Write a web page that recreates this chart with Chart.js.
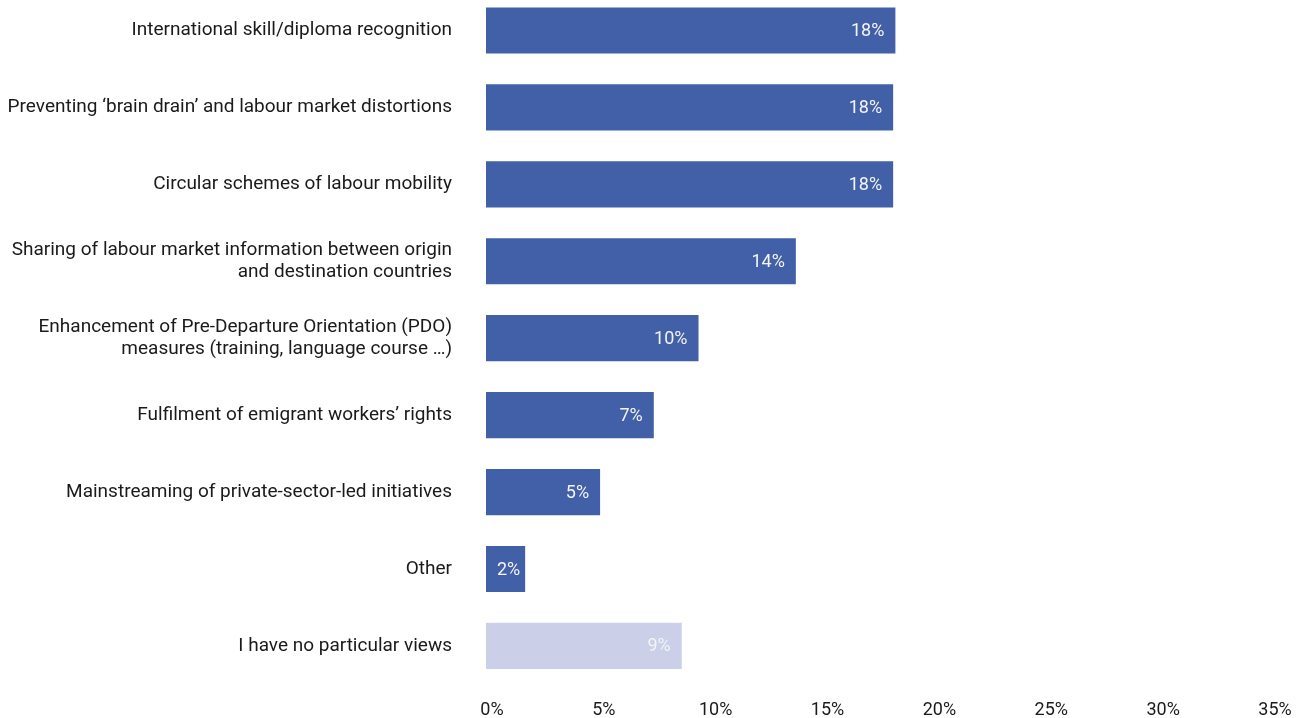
<!DOCTYPE html>
<html>
<head>
<meta charset="utf-8">
<script src="https://cdn.jsdelivr.net/npm/chart.js@4.4.1/dist/chart.umd.min.js"></script>
<style>
  html, body { margin: 0; padding: 0; background: #fff; overflow: hidden; }
  #wrap { position: absolute; left: 0; top: -8px; width: 1298px; height: 747px; }
</style>
</head>
<body>
<div id="wrap"><canvas id="barChart"></canvas></div>
<script>
const categories = [
    'International skill/diploma recognition',
    'Preventing \u2018brain drain\u2019 and labour market distortions',
    'Circular schemes of labour mobility',
    ['Sharing of labour market information between origin', 'and destination countries'],
    ['Enhancement of Pre-Departure Orientation (PDO)', 'measures (training, language course \u2026)'],
    'Fulfilment of emigrant workers\u2019 rights',
    'Mainstreaming of private-sector-led initiatives',
    'Other',
    'I have no particular views'
];
const shares = [18.3, 18.2, 18.2, 13.85, 9.5, 7.5, 5.1, 1.75, 8.75];
const shareLabels = ['18%', '18%', '18%', '14%', '10%', '7%', '5%', '2%', '9%'];
const xTicks = [0, 5, 10, 15, 20, 25, 30, 35];

const darkBlue = '#4260A8';
const lightBlue = '#CBCFE8';

Chart.defaults.font.family = 'Roboto';

// white value labels at the end of each bar
const valueLabels = {
    id: 'valueLabels',
    afterDatasetsDraw(chart) {
        const ctx = chart.ctx;
        const meta = chart.getDatasetMeta(0);
        ctx.save();
        ctx.font = '18px Roboto';
        ctx.fillStyle = '#F4F4F4';
        ctx.textBaseline = 'middle';
        meta.data.forEach((bar, i) => {
            const txt = shareLabels[i];
            const w = ctx.measureText(txt).width;
            const barW = bar.x - bar.base;
            if (w + 22 > barW) {
                ctx.textAlign = 'left';
                ctx.fillText(txt, bar.base + 11, bar.y + 1);
            } else {
                ctx.textAlign = 'right';
                ctx.fillText(txt, bar.x - 11, bar.y + 1);
            }
        });
        ctx.restore();
    }
};

// no automatic padding from the tick labels, layout is set by hand
function noAutoPadding(s) {
    s.paddingTop = 0;
    s.paddingBottom = 0;
    s.paddingLeft = 0;
    s.paddingRight = 0;
}

const barCtx = document.getElementById('barChart').getContext('2d');
const barChart = new Chart(barCtx, {
    type: 'bar',
    data: {
        labels: categories,
        datasets: [{
            data: shares,
            backgroundColor: categories.map((c, i) => i === categories.length - 1 ? lightBlue : darkBlue),
            borderWidth: 0,
            barPercentage: 0.6,
            categoryPercentage: 1
        }]
    },
    options: {
        indexAxis: 'y',
        responsive: true,
        maintainAspectRatio: false,
        animation: false,
        layout: { padding: { left: 0, right: 29, top: 0, bottom: 3 } },
        plugins: {
            legend: { display: false },
            tooltip: { enabled: false }
        },
        scales: {
            x: {
                min: 0,
                max: 35,
                afterBuildTicks: (s) => { s.ticks = xTicks.map(v => ({ value: v })); },
                afterFit: noAutoPadding,
                grid: { display: false, drawTicks: false },
                border: { display: false },
                ticks: {
                    padding: 15,
                    labelOffset: 6,
                    color: '#1A1A1A',
                    font: { size: 18 },
                    callback: (v) => v + '%'
                }
            },
            y: {
                afterFit: (s) => { s.width = 486; noAutoPadding(s); },
                grid: { display: false, drawTicks: false },
                border: { display: false },
                ticks: {
                    padding: 34,
                    color: '#1A1A1A',
                    font: { size: 19, lineHeight: 1.16 }
                }
            }
        }
    },
    plugins: [valueLabels]
});
</script>
</body>
</html>
